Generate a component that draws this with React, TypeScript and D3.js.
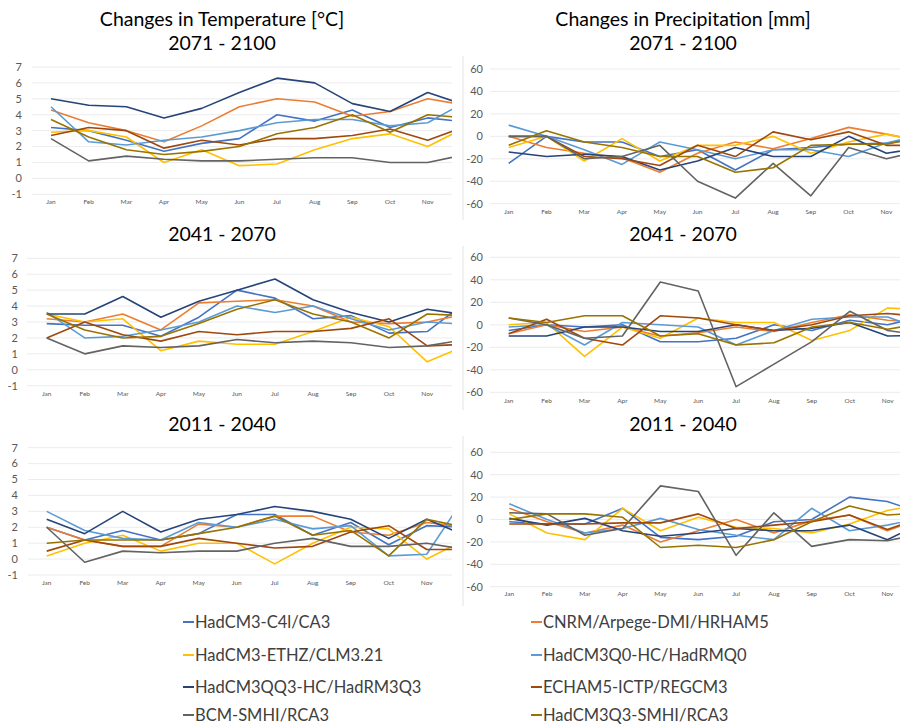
import React from "react";
import * as d3 from "d3";

const MONTHS = ["Jan", "Feb", "Mar", "Apr", "May", "Jun", "Jul", "Aug", "Sep", "Oct", "Nov", "Dec"];
const SERIES = [
  "HadCM3-C4l/CA3",
  "CNRM/Arpege-DMI/HRHAM5",
  "HadCM3-ETHZ/CLM3.21",
  "HadCM3Q0-HC/HadRMQ0",
  "HadCM3QQ3-HC/HadRM3Q3",
  "ECHAM5-ICTP/REGCM3",
  "BCM-SMHI/RCA3",
  "HadCM3Q3-SMHI/RCA3",
];
const COLORS = ["#4472C4", "#ED7D31", "#FFC000", "#5B9BD5", "#264478", "#9E480E", "#636363", "#997300"];
const TEMP_TICKS = [-1, 0, 1, 2, 3, 4, 5, 6, 7];
const PRECIP_TICKS = [-60, -40, -20, 0, 20, 40, 60];

// Temperature change [°C], rows follow SERIES order
const temp2071 = [
  [3.2, 3.0, 2.4, 1.7, 2.2, 2.5, 4.0, 3.6, 4.3, 3.2, 3.8, 3.55],
  [4.3, 3.5, 3.0, 2.3, 3.3, 4.5, 5.0, 4.8, 3.9, 4.2, 5.0, 4.6],
  [2.9, 3.0, 2.6, 1.0, 1.8, 0.8, 0.9, 1.8, 2.5, 2.8, 2.0, 3.2],
  [4.5, 2.3, 2.1, 2.4, 2.6, 3.0, 3.5, 3.7, 3.7, 3.3, 3.5, 4.8],
  [5.0, 4.6, 4.5, 3.8, 4.4, 5.4, 6.3, 6.0, 4.7, 4.2, 5.4, 4.6],
  [2.7, 3.2, 3.0, 1.9, 2.4, 2.1, 2.5, 2.5, 2.7, 3.1, 2.4, 3.25],
  [2.5, 1.1, 1.4, 1.2, 1.1, 1.1, 1.2, 1.3, 1.3, 1.0, 1.0, 1.5],
  [3.7, 2.6, 1.8, 1.5, 1.7, 2.0, 2.8, 3.2, 4.0, 2.9, 4.0, 3.8],
];
const temp2041 = [
  [2.9, 2.8, 2.8, 2.1, 3.3, 5.0, 4.5, 3.2, 3.4, 2.3, 2.4, 4.2],
  [3.2, 3.0, 3.5, 2.5, 4.2, 4.3, 4.4, 4.0, 3.0, 2.9, 3.0, 3.5],
  [3.5, 3.0, 3.2, 1.2, 1.8, 1.6, 1.6, 2.4, 3.3, 2.7, 0.5, 1.5],
  [3.6, 2.0, 2.1, 2.5, 3.0, 4.0, 3.6, 4.0, 3.2, 2.5, 3.0, 2.85],
  [3.5, 3.5, 4.6, 3.3, 4.3, 5.0, 5.7, 4.4, 3.6, 3.0, 3.8, 3.45],
  [2.0, 3.0, 2.2, 1.8, 2.4, 2.2, 2.4, 2.4, 2.6, 3.2, 1.5, 1.6],
  [2.0, 1.0, 1.5, 1.4, 1.5, 1.9, 1.7, 1.8, 1.7, 1.4, 1.5, 1.9],
  [3.5, 2.5, 2.0, 2.1, 2.9, 3.8, 4.4, 3.5, 3.0, 2.0, 3.5, 3.4],
];
const temp2011 = [
  [2.0, 1.2, 1.8, 1.2, 1.6, 2.8, 2.8, 1.5, 2.3, 0.9, 2.1, 2.0],
  [2.0, 1.2, 0.8, 0.8, 2.2, 2.0, 2.7, 2.7, 1.7, 1.5, 2.3, 2.0],
  [0.2, 1.0, 1.5, 0.5, 1.0, 1.0, -0.3, 1.0, 2.0, 1.9, 0.0, 1.2],
  [3.0, 1.8, 1.3, 1.2, 2.3, 2.0, 2.5, 1.9, 2.1, 0.2, 0.3, 3.9],
  [2.5, 1.6, 3.0, 1.7, 2.5, 2.8, 3.3, 3.0, 2.5, 1.3, 2.5, 1.5],
  [0.5, 1.2, 0.8, 0.8, 1.3, 1.0, 0.7, 0.8, 1.7, 2.1, 0.6, 0.6],
  [2.0, -0.2, 0.5, 0.4, 0.5, 0.5, 1.0, 1.3, 0.8, 0.8, 1.0, 0.6],
  [1.0, 1.2, 1.2, 1.2, 1.6, 2.0, 2.7, 1.5, 1.8, 0.2, 2.5, 2.0],
];

// Precipitation change [mm], rows follow SERIES order
const precip2071 = [
  [-24, 0, -5, -5, -18, -12, -30, -12, -10, -7, -6, -2],
  [0, -10, -15, -19, -32, -15, -5, -11, -2, 8, 2, -5],
  [-10, 0, -22, -2, -22, -8, -8, 0, -15, -5, 2, -5],
  [10, 0, -12, -25, -5, -12, -20, -12, -12, -18, -6, 2],
  [-14, -18, -16, -18, -30, -22, -10, -18, -18, 0, -15, -10],
  [0, 0, -18, -20, -26, -8, -18, 4, -3, 4, -8, -8],
  [0, 0, -20, -18, -8, -40, -55, -24, -53, -10, -20, -12],
  [-8, 5, -5, -10, -18, -18, -32, -28, -8, -7, -7, 0],
];
const precip2041 = [
  [-5, 0, -2, 0, -15, -15, -12, 0, -5, 4, 0, 8],
  [-8, 0, -6, -2, -10, -7, -2, -6, 2, 9, 4, 2],
  [0, 2, -28, -2, -12, 6, 2, 2, -14, -5, 15, 13],
  [-2, 0, -18, 2, 0, -2, -18, -5, 5, 7, 7, -5],
  [-10, -10, -2, -2, -6, -6, 0, -5, -3, 2, -10, -9],
  [-8, 5, -12, -18, 8, 6, 0, -5, 0, 8, 10, 7],
  [6, 0, -12, -10, 38, 30, -55, -35, -15, 12, -5, -10],
  [6, 2, 8, 8, -10, -8, -18, -16, -2, 2, -4, 2],
];
const precip2011 = [
  [-2, -4, -4, 10, -16, -18, -15, -2, 0, 20, 16, 5],
  [10, -2, -12, -5, -20, -10, 0, -12, -1, 4, -10, 2],
  [5, -12, -18, 10, -10, 2, -7, -8, -12, -4, 8, 14],
  [14, 0, -12, -8, 1, -9, -14, -18, 10, -10, -5, 2],
  [1, -5, 1, -10, -15, -12, -8, -10, -10, -5, -18, -2],
  [-4, -4, -4, -3, -3, 5, -8, -5, -2, 4, -9, 3],
  [6, 5, -14, -8, 30, 25, -32, 6, -24, -18, -19, -12],
  [0, 5, 5, 2, -25, -23, -25, -18, -2, 12, 4, 6],
];

const FONT = "Lato, 'Open Sans', sans-serif";

type PanelCfg = {
  id: string;
  data: number[][];
  title: string;
  titleX: number;
  titleY: number;
  x0: number;
  step: number;
  gridX0: number;
  gridX1: number;
  yTop: number;
  yBot: number;
  domain: [number, number];
  ticks: number[];
  labelX: number;
  monthY: number;
  border?: [number, number, number];
};

const PANELS: PanelCfg[] = [
  { id: "t1", data: temp2071, title: "2071 - 2100", titleX: 222, titleY: 50, x0: 51, step: 37.67, gridX0: 31.7, gridX1: 452, yTop: 67, yBot: 194.3, domain: [-1, 7], ticks: TEMP_TICKS, labelX: 22, monthY: 202 },
  { id: "t2", data: temp2041, title: "2041 - 2070", titleX: 222, titleY: 241, x0: 46.7, step: 38.05, gridX0: 27, gridX1: 452, yTop: 258.3, yBot: 385.7, domain: [-1, 7], ticks: TEMP_TICKS, labelX: 18, monthY: 394 },
  { id: "t3", data: temp2011, title: "2011 - 2040", titleX: 222, titleY: 431, x0: 46.7, step: 38.0, gridX0: 28, gridX1: 452, yTop: 447.7, yBot: 575, domain: [-1, 7], ticks: TEMP_TICKS, labelX: 18, monthY: 583 },
  { id: "p1", data: precip2071, title: "2071 - 2100", titleX: 683, titleY: 50, x0: 508.7, step: 37.77, gridX0: 490, gridX1: 900, yTop: 69, yBot: 203.7, domain: [-60, 60], ticks: PRECIP_TICKS, labelX: 483, monthY: 212, border: [463, 56, 220] },
  { id: "p2", data: precip2041, title: "2041 - 2070", titleX: 683, titleY: 241, x0: 508.7, step: 37.9, gridX0: 490, gridX1: 900, yTop: 257.3, yBot: 392.3, domain: [-60, 60], ticks: PRECIP_TICKS, labelX: 483, monthY: 401, border: [463, 246, 410] },
  { id: "p3", data: precip2011, title: "2011 - 2040", titleX: 683, titleY: 431, x0: 509.3, step: 37.8, gridX0: 490, gridX1: 900, yTop: 452.3, yBot: 586.7, domain: [-60, 60], ticks: PRECIP_TICKS, labelX: 483, monthY: 594, border: [463, 436, 606] },
];

function Panel({ cfg }: { cfg: PanelCfg }) {
  const x = d3
    .scalePoint<string>()
    .domain(MONTHS)
    .range([cfg.x0, cfg.x0 + cfg.step * (MONTHS.length - 1)]);
  const y = d3.scaleLinear().domain(cfg.domain).range([cfg.yBot, cfg.yTop]);
  const line = d3
    .line<number>()
    .x((_, i) => x(MONTHS[i]) as number)
    .y((d) => y(d));
  const clipId = `clip-${cfg.id}`;
  // the month whose label would fall outside the visible panel is cropped away
  const visibleMonths = MONTHS.filter((m) => (x(m) as number) + 8 <= cfg.gridX1);
  return (
    <g>
      <defs>
        <clipPath id={clipId}>
          <rect x={cfg.gridX0 - 40} y={cfg.yTop - 40} width={cfg.gridX1 - cfg.gridX0 + 40} height={cfg.yBot - cfg.yTop + 80} />
        </clipPath>
      </defs>
      <text x={cfg.titleX} y={cfg.titleY} textAnchor="middle" fontFamily={FONT} fontSize={19.5} fill="#000">
        {cfg.title}
      </text>
      {cfg.border && (
        <line x1={cfg.border[0]} x2={cfg.border[0]} y1={cfg.border[1]} y2={cfg.border[2]} stroke="#e4e4e4" strokeWidth={1} />
      )}
      {cfg.ticks.map((t) => (
        <g key={t}>
          <line x1={cfg.gridX0} x2={cfg.gridX1} y1={y(t)} y2={y(t)} stroke="#ececec" strokeWidth={1} />
          <text x={cfg.labelX} y={y(t)} dy="0.35em" textAnchor="end" fontFamily={FONT} fontSize={11} fill="#595959">
            {t}
          </text>
        </g>
      ))}
      {visibleMonths.map((m) => (
        <text key={m} x={x(m)} y={cfg.monthY} dy="0.35em" textAnchor="middle" fontFamily={FONT} fontSize={6.5} fill="#595959">
          {m}
        </text>
      ))}
      <g clipPath={`url(#${clipId})`}>
        {cfg.data.map((row, i) => (
          <path key={i} d={line(row) || ""} fill="none" stroke={COLORS[i]} strokeWidth={1.6} strokeLinejoin="round" />
        ))}
      </g>
    </g>
  );
}

export default function App() {
  const legendRows = [0, 1, 2, 3];
  return (
    <svg
      width={900}
      height={726}
      viewBox="0 0 900 726"
      style={{ position: "absolute", left: 0, top: 0, background: "#fff" }}
    >
      <rect x={0} y={0} width={900} height={726} fill="#fff" />
      <text x={222} y={26} textAnchor="middle" fontFamily={FONT} fontSize={19.5} fill="#000">
        Changes in Temperature [°C]
      </text>
      <text x={683} y={26} textAnchor="middle" fontFamily={FONT} fontSize={19.5} fill="#000">
        Changes in Precipitation [mm]
      </text>
      {PANELS.map((p) => (
        <Panel key={p.id} cfg={p} />
      ))}
      <g fontFamily={FONT} fontSize={16.5}>
        {legendRows.map((r) =>
          [0, 1].map((c) => {
            const idx = r * 2 + c;
            const lx = c === 0 ? 183 : 531;
            const ly = [622, 655, 687, 715][r];
            return (
              <g key={idx}>
                <line x1={lx} x2={lx + 11} y1={ly} y2={ly} stroke={COLORS[idx]} strokeWidth={2} />
                <text x={lx + 12} y={ly} dy="0.35em" fill="#404040">
                  {SERIES[idx]}
                </text>
              </g>
            );
          })
        )}
      </g>
    </svg>
  );
}
